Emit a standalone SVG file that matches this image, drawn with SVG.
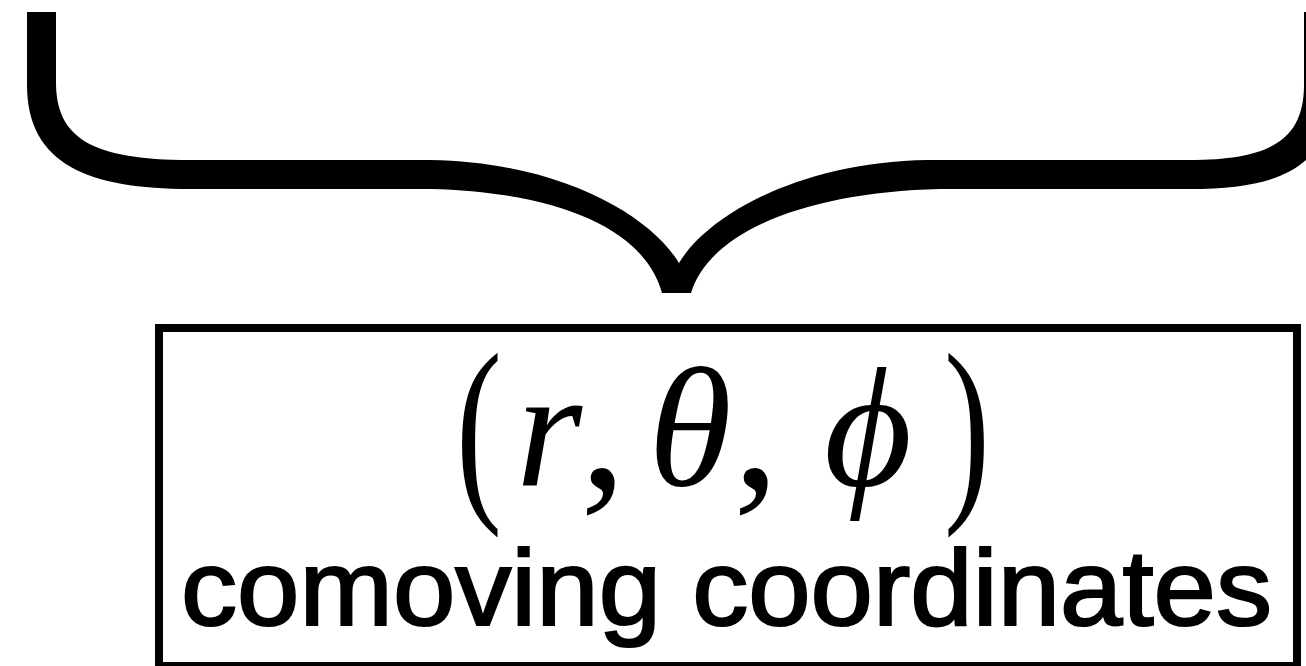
<svg xmlns="http://www.w3.org/2000/svg" width="1306" height="666" viewBox="0 0 1306 666">
  <style>
    .ink { fill: #000; }
    .box { fill: #fff; stroke: #000; stroke-width: 8; }
    .math { font-family: "Liberation Serif", "DejaVu Serif", serif; fill: #000; }
    .mi { font-style: italic; }
    .label { font-family: "Liberation Sans", Arial, Helvetica, sans-serif; fill: #000; stroke: #000; stroke-width: 2.2; }
  </style>
  <rect width="1306" height="666" fill="#fff"/>
  <g id="brace">
    <path class="ink" d="M27,12 H56 V82 C56,137 90,160 190,160 H430 C560,162 650,215 679,263 C708,215 800,162 928,160 H1190 C1270,160 1304,140 1304,85 V12 H1333 V85 C1333,165 1285,189 1190,189 H940 C810,192 710,230 691,293 H662 C645,230 560,192 430,189 H190 C90,189 27,165 27,85 Z"/>
  </g>
  <g id="comoving-node">
    <rect class="box" x="159" y="328" width="1138" height="338"/>
    <g id="math">
      <text class="math" font-size="203" text-anchor="middle" transform="translate(479,494) scale(0.68,1)">(</text>
      <text class="math mi" font-size="170" x="549" y="485" text-anchor="middle">r</text>
      <text class="math" font-size="185" x="603" y="487" text-anchor="middle">,</text>
      <text class="math mi" font-size="170" x="690" y="485" text-anchor="middle">θ</text>
      <text class="math" font-size="185" x="756" y="487" text-anchor="middle">,</text>
      <text class="math mi" font-size="170" x="868" y="485" text-anchor="middle">ϕ</text>
      <text class="math" font-size="203" text-anchor="middle" transform="translate(967,494) scale(0.68,1)">)</text>
    </g>
    <text class="label" x="181" y="625" font-size="108" textLength="1091" lengthAdjust="spacingAndGlyphs">comoving coordinates</text>
  </g>
</svg>
